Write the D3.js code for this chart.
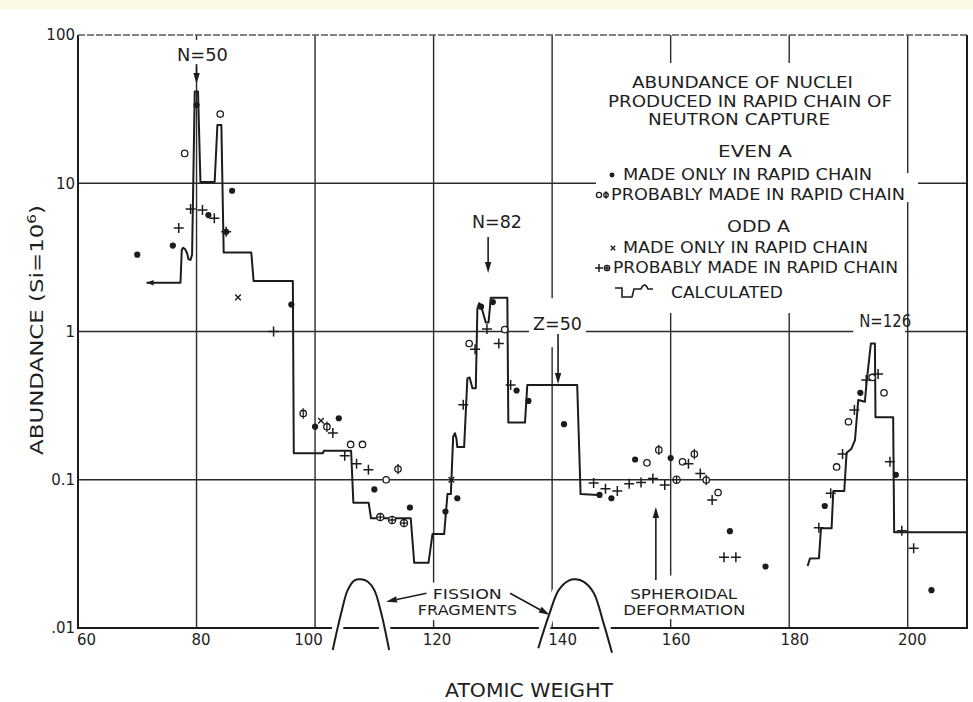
<!DOCTYPE html>
<html>
<head>
<meta charset="utf-8">
<script src="https://cdn.jsdelivr.net/npm/d3@7"></script>
<style>
  html, body { margin: 0; padding: 0; background: #fff; }
  svg { display: block; }
  text { font-family: "DejaVu Sans", "Liberation Sans", sans-serif; fill: #1e1e1e; }
</style>
</head>
<body>
<svg id="chart" width="973" height="702"></svg>
<script>
// ---------------- data ----------------
const xTicks = [60, 80, 100, 120, 140, 160, 180, 200];
const yTicks = [0.01, 0.1, 1, 10, 100];
const yTickLabels = [".01", "0.1", "1", "10", "100"];

// Even A, made only in the rapid chain  [atomic weight, abundance]
const evenOnly = [[70,3.3],[76,3.8],[80,33.7],[82,6.1],[85,4.7],[86,8.9],[96,1.52],[100,0.228],[104,0.26],
  [110,0.086],[116,0.065],[122,0.061],[124,0.075],[128,1.47],[130,1.58],[134,0.40],[136,0.34],[142,0.237],
  [148,0.079],[150,0.075],[154,0.137],[160,0.14],[170,0.045],[176,0.026],[186,0.0665],[192,0.386],[198,0.108],[204,0.018]];
// Even A, probably made in the rapid chain (open circles)
const evenProbRing = [[78,15.9],[84,29.3],[106,0.173],[108,0.173],[112,0.10],[126,0.83],[132,1.03],[156,0.130],
  [162,0.132],[168,0.082],[188,0.122],[190,0.246],[194,0.49],[196,0.386]];
// Even A, probably made in the rapid chain (barred circles)
const evenProbBar = [[98,0.28],[102,0.228],[114,0.118],[158,0.159],[164,0.149],[166,0.0995]];
// Odd A, made only in the rapid chain
const oddOnly = [[87,1.7],[101,0.25],[123,0.10]];
// Odd A, probably made in the rapid chain (plus signs)
const oddProbPlus = [[77,5.0],[79,6.7],[81,6.6],[83,5.8],[85,4.7],[93,1.0],[103,0.207],[105,0.145],[107,0.128],
  [109,0.117],[125,0.32],[127,0.76],[129,1.04],[131,0.83],[133,0.435],[147,0.095],[149,0.087],[151,0.084],
  [153,0.094],[155,0.096],[157,0.102],[159,0.092],[163,0.128],[165,0.11],[167,0.073],[169,0.030],[171,0.030],
  [185,0.0475],[187,0.081],[189,0.149],[191,0.295],[193,0.471],[195,0.516],[197,0.132],[199,0.0453],[201,0.0345]];
// Odd A, probably made in the rapid chain (circled plus)
const oddProbCircled = [[111,0.056],[113,0.0535],[115,0.051],[161,0.10]];

// Calculated abundance curve, first branch (A ~ 72 to 148)
const calcLow = [[71.57,2.13],[77.29,2.13],[77.51,3.55],[77.73,3.67],[78.07,3.6],[78.41,3.37],[78.64,3.07],
  [78.98,3.04],[79.25,3.3],[79.70,41.5],[80.25,41.5],[80.66,10.2],[83.06,10.2],[83.52,24.7],[84.19,24.7],
  [84.58,3.41],[89.24,3.41],[89.63,2.19],[96.25,2.19],[96.41,0.151],[101.3,0.151],[101.5,0.157],[106.08,0.157],
  [106.46,0.070],[109.04,0.070],[109.44,0.055],[116.14,0.055],[116.73,0.0275],[119.14,0.0275],[119.81,0.043],
  [121.78,0.043],[122.34,0.080],[122.91,0.080],[123.3,0.195],[123.6,0.206],[123.85,0.19],[124.0,0.166],
  [125.15,0.166],[125.7,0.483],[126.08,0.49],[126.55,0.414],[127.12,0.414],[127.39,1.43],[127.68,1.55],
  [128.0,1.5],[128.8,1.15],[129.27,1.15],[129.65,1.69],[132.44,1.69],[132.61,0.243],[135.42,0.243],
  [135.81,0.436],[144.23,0.436],[144.8,0.080],[147.76,0.079]];
// Calculated abundance curve, second branch (A ~ 183 to 210)
const calcHigh = [[183.11,0.0262],[183.5,0.0294],[185.02,0.0295],[185.36,0.047],[187.15,0.047],[187.44,0.084],
  [189.29,0.084],[189.68,0.152],[190.47,0.161],[191.1,0.185],[191.65,0.345],[192.77,0.336],[193.04,0.447],
  [193.78,0.83],[194.46,0.83],[194.56,0.264],[197.54,0.264],[197.71,0.0442],[210,0.0442]];

// Fission-fragment yield humps (schematic)
const fissionLight = [[102.98,0.0071],[104.4,0.01256],[105.5,0.018],[106.6,0.0209],[107.76,0.0213],
  [108.9,0.0205],[110.0,0.018],[111.1,0.0129],[112.5,0.0071]];
const fissionHeavy = [[137.66,0.0073],[139.46,0.0122],[141.1,0.018],[142.8,0.0209],[143.96,0.0213],
  [145.35,0.0205],[147.0,0.0173],[148.7,0.0107],[150.1,0.0068]];

// ---------------- setup ----------------
const W = 973, H = 702;
const ink = "#1c1c1c";
const x = d3.scaleLinear().domain([60, 210]).range([78, 967]);
const y = d3.scaleLog().domain([0.01, 100]).range([628, 35]);

const svg = d3.select("#chart");
const gBg = svg.append("g");
const gGrid = svg.append("g");
const gMask = svg.append("g");
const gData = svg.append("g");
const gText = svg.append("g");

gBg.append("rect").attr("width", W).attr("height", H).attr("fill", "#ffffff");
gBg.append("rect").attr("width", W).attr("height", 9).attr("fill", "#fbf9e4");

// ---------------- grid and frame ----------------
gGrid.selectAll("line.vgrid").data(xTicks.slice(1)).join("line")
  .attr("class", "vgrid")
  .attr("x1", d => x(d)).attr("x2", d => x(d))
  .attr("y1", y(100)).attr("y2", y(0.01))
  .attr("stroke", "#2a2a2a").attr("stroke-width", 1.4);
gGrid.selectAll("line.hgrid").data([0.1, 1, 10]).join("line")
  .attr("class", "hgrid")
  .attr("x1", x(60)).attr("x2", x(210))
  .attr("y1", d => y(d)).attr("y2", d => y(d))
  .attr("stroke", "#2a2a2a").attr("stroke-width", 1.4);

// frame: left, bottom, right solid; top lighter
gGrid.append("path")
  .attr("d", `M${x(60)},${y(100)}V${y(0.01)}H${x(210)}V${y(100)}`)
  .attr("fill", "none").attr("stroke", ink).attr("stroke-width", 2);
gGrid.append("line")
  .attr("x1", x(60)).attr("x2", x(210)).attr("y1", y(100)).attr("y2", y(100))
  .attr("stroke", "#5a5a5a").attr("stroke-width", 1.6).attr("stroke-dasharray", "7,2");

// ---------------- axes ----------------
const xNudge = {60: 8, 80: 4, 100: -7, 120: 3, 140: 10, 160: 5, 180: 5, 200: 4};
const gx = gText.append("g")
  .attr("transform", `translate(0,${y(0.01)})`)
  .call(d3.axisBottom(x).tickValues(xTicks).tickSize(0).tickPadding(6).tickFormat(d3.format("d")));
gx.select(".domain").remove();
gx.attr("font-family", null).attr("font-size", 15);
gx.selectAll(".tick text").attr("fill", ink).attr("dx", d => xNudge[d] || 0);

const gy = gText.append("g")
  .attr("transform", `translate(${x(60)},0)`)
  .call(d3.axisLeft(y).tickValues(yTicks).tickSize(0).tickPadding(3)
    .tickFormat(d => yTickLabels[yTicks.indexOf(d)]));
gy.select(".domain").remove();
gy.attr("font-family", null).attr("font-size", 15);
gy.selectAll(".tick text").attr("fill", ink);

// axis titles
gText.append("text")
  .attr("x", 529).attr("y", 697).attr("text-anchor", "middle")
  .attr("font-size", 19).attr("textLength", 168).attr("lengthAdjust", "spacingAndGlyphs")
  .text("ATOMIC  WEIGHT");
const yTitle = gText.append("text")
  .attr("transform", "translate(43,330) rotate(-90)")
  .attr("text-anchor", "middle").attr("font-size", 18)
  .attr("textLength", 250).attr("lengthAdjust", "spacingAndGlyphs");
yTitle.append("tspan").text("ABUNDANCE  (Si=10");
yTitle.append("tspan").attr("dy", -7).attr("font-size", 12).text("6");
yTitle.append("tspan").attr("dy", 7).text(")");

// ---------------- helpers ----------------
function label(str, cx, base, size, len, pads) {
  const t = gText.append("text")
    .attr("x", cx).attr("y", base).attr("text-anchor", "middle")
    .attr("font-size", size).text(str);
  if (len) t.attr("textLength", len).attr("lengthAdjust", "spacingAndGlyphs");
  if (pads) {
    const b = t.node().getBBox();
    gMask.append("rect")
      .attr("x", b.x - pads[3]).attr("y", b.y - pads[0])
      .attr("width", b.width + pads[1] + pads[3]).attr("height", b.height + pads[0] + pads[2])
      .attr("fill", "#fff");
  }
  return t;
}
function arrow(g, x1, y1, x2, y2, len = 11, half = 3.2) {
  const ang = Math.atan2(y2 - y1, x2 - x1);
  const bx = x2 - len * Math.cos(ang), by = y2 - len * Math.sin(ang);
  g.append("line").attr("x1", x1).attr("y1", y1).attr("x2", bx).attr("y2", by)
    .attr("stroke", ink).attr("stroke-width", 1.6);
  const px = -Math.sin(ang) * half, py = Math.cos(ang) * half;
  g.append("path").attr("d", `M${x2},${y2}L${bx + px},${by + py}L${bx - px},${by - py}Z`).attr("fill", ink);
}

function marker(g, type, cx, cy, s = 1) {
  const sw = 1.3;
  if (type === "dot") {
    g.append("circle").attr("cx", cx).attr("cy", cy).attr("r", 3.1 * s).attr("fill", ink);
  } else if (type === "ring" || type === "bar" || type === "oplus") {
    const r = (type === "oplus" ? 3.6 : 3.2) * s;
    g.append("circle").attr("cx", cx).attr("cy", cy).attr("r", r)
      .attr("fill", "#fff").attr("stroke", ink).attr("stroke-width", sw);
    if (type === "bar") {
      g.append("line").attr("x1", cx).attr("x2", cx).attr("y1", cy - r - 2 * s).attr("y2", cy + r + 2 * s)
        .attr("stroke", ink).attr("stroke-width", sw);
    }
    if (type === "oplus") {
      g.append("path").attr("d", `M${cx - r},${cy}H${cx + r}M${cx},${cy - r}V${cy + r}`)
        .attr("stroke", ink).attr("stroke-width", sw);
    }
  } else if (type === "plus") {
    const a = 5 * s;
    g.append("path").attr("d", `M${cx - a},${cy}H${cx + a}M${cx},${cy - a}V${cy + a}`)
      .attr("stroke", ink).attr("stroke-width", 1.5);
  } else if (type === "cross") {
    const a = 2.8 * s;
    g.append("path").attr("d", `M${cx - a},${cy - a}L${cx + a},${cy + a}M${cx - a},${cy + a}L${cx + a},${cy - a}`)
      .attr("stroke", ink).attr("stroke-width", 1.4);
  }
}

// ---------------- annotations (text with white backing) ----------------
label("N=50", x(81.0), y(66.8), 18, 51, [4, 2, 2, 2]);
label("N=82", x(130.7), y(4.99), 17, 50, null);
label("Z=50", x(140.9), y(1.02), 17, 49, [16, 4, 13, 4]);
label("N=126", x(196.2), y(1.07), 17, 52, [3, -6, 6, 6]);
const fis1 = label("FISSION", x(125.7), y(0.0158), 14.5, 69, null);
const fis2 = label("FRAGMENTS", x(125.7), y(0.0122), 14.5, 99, null);
const sph1 = label("SPHEROIDAL", x(162.2), y(0.0158), 14.5, 107, null);
const sph2 = label("DEFORMATION", x(162.3), y(0.0122), 14.5, 122, null);
[[fis1, fis2, [3, 3, 2, 3]], [sph1, sph2, [10, 3, 1, 3]]].forEach(([a, b, p]) => {
  const ba = a.node().getBBox(), bb = b.node().getBBox();
  const x0 = Math.min(ba.x, bb.x) - p[3], x1 = Math.max(ba.x + ba.width, bb.x + bb.width) + p[1];
  gMask.append("rect").attr("x", x0).attr("y", ba.y - p[0])
    .attr("width", x1 - x0).attr("height", bb.y + bb.height - ba.y + p[0] + p[2]).attr("fill", "#fff");
});

// arrows
arrow(gData, x(80), y(63.7), x(80), y(46.7));
arrow(gData, x(129.2), y(4.34), x(129.2), y(2.48));
arrow(gData, x(141.0), y(0.962), x(141.0), y(0.443));
arrow(gData, x(157.5), y(0.0211), x(157.5), y(0.0655));
arrow(gData, x(118.8), y(0.01714), x(111.97), y(0.01504));
arrow(gData, x(132.9), y(0.01714), x(139.6), y(0.01225));

// ---------------- legend ----------------
gMask.append("rect").attr("x", 596).attr("y", 63).attr("width", 310).attr("height", 250).attr("fill", "#fff");
gMask.append("rect").attr("x", 900).attr("y", 173).attr("width", 18).attr("height", 29).attr("fill", "#fff");
const gLeg = gText.append("g");
const legLines = [
  {t: "ABUNDANCE  OF  NUCLEI", x: 742.5, y: 88, w: 221, a: "middle"},
  {t: "PRODUCED  IN  RAPID  CHAIN OF", x: 750, y: 107, w: 284, a: "middle"},
  {t: "NEUTRON  CAPTURE", x: 739, y: 125, w: 182, a: "middle"},
  {t: "EVEN  A", x: 755, y: 157, w: 74, a: "middle"},
  {t: "MADE  ONLY  IN  RAPID  CHAIN", x: 623, y: 180, w: 249, a: "start"},
  {t: "PROBABLY MADE IN RAPID CHAIN", x: 611, y: 200, w: 294, a: "start"},
  {t: "ODD  A", x: 758.5, y: 232, w: 63, a: "middle"},
  {t: "MADE  ONLY  IN  RAPID  CHAIN", x: 623, y: 253, w: 245, a: "start"},
  {t: "PROBABLY MADE IN RAPID CHAIN", x: 613, y: 273, w: 285, a: "start"},
  {t: "CALCULATED", x: 671, y: 298, w: 112, a: "start"}
];
gLeg.selectAll("text").data(legLines).join("text")
  .attr("x", d => d.x).attr("y", d => d.y).attr("text-anchor", d => d.a)
  .attr("font-size", 15).attr("textLength", d => d.w).attr("lengthAdjust", "spacingAndGlyphs")
  .text(d => d.t);
marker(gLeg, "dot", 612, 175, 0.8);
marker(gLeg, "ring", 599, 195, 0.8);
marker(gLeg, "bar", 606, 195, 0.7);
marker(gLeg, "cross", 613, 248, 0.8);
marker(gLeg, "plus", 599, 268, 0.8);
marker(gLeg, "oplus", 607, 268, 0.75);
gLeg.append("path")
  .attr("d", "M615,288H622V297H632L634,289H641Q644.5,281 648,289H653")
  .attr("fill", "none").attr("stroke", ink).attr("stroke-width", 1.6);

// ---------------- data marks ----------------
const line = d3.line().x(d => x(d[0])).y(d => y(d[1]));
const hump = d3.line().x(d => x(d[0])).y(d => y(d[1])).curve(d3.curveCatmullRom.alpha(0.5));

// white halos where the fission humps cross the axis
[fissionLight, fissionHeavy].forEach(h => {
  gMask.append("path").attr("d", hump(h)).attr("fill", "none")
    .attr("stroke", "#fff").attr("stroke-width", 11);
});
[fissionLight, fissionHeavy].forEach(h => {
  gData.append("path").attr("d", hump(h)).attr("fill", "none")
    .attr("stroke", ink).attr("stroke-width", 2);
});

[calcLow, calcHigh].forEach(c => {
  gData.append("path").attr("d", line(c)).attr("fill", "none")
    .attr("stroke", ink).attr("stroke-width", 2).attr("stroke-linejoin", "round");
});
// leftward arrowhead at the start of the calculated curve
arrow(gData, x(calcLow[0][0]) + 8, y(calcLow[0][1]), x(calcLow[0][0]), y(calcLow[0][1]), 7, 2.8);

const groups = [
  [evenOnly, "dot"], [evenProbRing, "ring"], [evenProbBar, "bar"],
  [oddOnly, "cross"], [oddProbPlus, "plus"], [oddProbCircled, "oplus"]
];
const gPts = gData.append("g");
groups.forEach(([pts, type]) => {
  pts.forEach(p => marker(gPts, type, x(p[0]), y(p[1])));
});
</script>
</body>
</html>
